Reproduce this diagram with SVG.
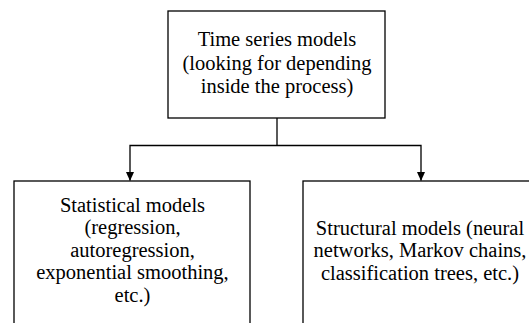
<svg xmlns="http://www.w3.org/2000/svg" width="529" height="323" viewBox="0 0 529 323">
<style>
.box{fill:#fff;stroke:#000;stroke-width:1.3}
.t{font-family:"Liberation Serif","Times New Roman",Times,serif;font-size:20.5px;fill:#000;text-anchor:middle}
.c{fill:none;stroke:#000;stroke-width:1.3}
.ah{fill:#000}
</style>
<rect width="529" height="323" fill="#fff"/>
<g id="connectors">
<path class="c" d="M277,118 V145.5"/>
<path class="c" d="M277,145.5 H130 V180.5"/>
<path class="c" d="M277,145.5 H421 V180.5"/>
<path class="ah" d="M126,172 L134,172 L130,181 Z"/>
<path class="ah" d="M417,172 L425,172 L421,181 Z"/>
</g>
<g id="time-series">
<rect class="box" x="168" y="11" width="217" height="107"/>
<text class="t" x="277" y="45.7">Time series models</text>
<text class="t" x="277" y="69.5">(looking for depending</text>
<text class="t" x="277" y="93.2">inside the process)</text>
</g>
<g id="statistical">
<rect class="box" x="14" y="181" width="236" height="160"/>
<text class="t" x="132.5" y="211.7">Statistical models</text>
<text class="t" x="132.5" y="234.2">(regression,</text>
<text class="t" x="132.5" y="256.7">autoregression,</text>
<text class="t" x="132.5" y="279.2">exponential smoothing,</text>
<text class="t" x="132.5" y="301.7">etc.)</text>
</g>
<g id="structural">
<rect class="box" x="303" y="181" width="240" height="160"/>
<text class="t" x="420" y="234.7">Structural models (neural</text>
<text class="t" x="420" y="257.2">networks, Markov chains,</text>
<text class="t" x="420" y="279.7">classification trees, etc.)</text>
</g>
</svg>
